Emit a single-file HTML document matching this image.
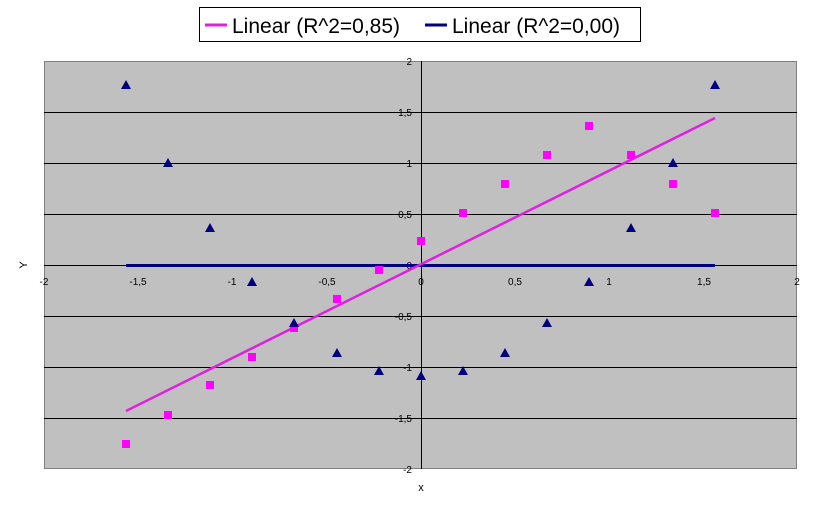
<!DOCTYPE html><html><head><style>body{margin:0;background:#fff}svg{display:block}text{font-family:"Liberation Sans",sans-serif}</style></head><body>
<svg width="823" height="512" xmlns="http://www.w3.org/2000/svg">
<rect x="199.5" y="7.5" width="441" height="34" fill="#fff" stroke="#000"/>
<line x1="205" y1="25" x2="227" y2="25" stroke="#e020e0" stroke-width="3"/>
<text x="232" y="33" font-size="21">Linear (R^2=0,85)</text>
<line x1="425" y1="25" x2="447" y2="25" stroke="#000080" stroke-width="3"/>
<text x="452" y="33" font-size="21">Linear (R^2=0,00)</text>
<rect x="44.5" y="61.5" width="752" height="407" fill="#c0c0c0" stroke="#808080"/>
<g stroke="#000" stroke-width="1">
<line x1="44" y1="112.5" x2="797" y2="112.5"/><line x1="44" y1="163.5" x2="797" y2="163.5"/><line x1="44" y1="214.5" x2="797" y2="214.5"/><line x1="44" y1="265.5" x2="797" y2="265.5"/><line x1="44" y1="316.5" x2="797" y2="316.5"/><line x1="44" y1="367.5" x2="797" y2="367.5"/><line x1="44" y1="418.5" x2="797" y2="418.5"/>
<line x1="421.5" y1="61" x2="421.5" y2="469"/>
</g>
<g font-size="10" text-anchor="end">
<text x="412" y="65">2</text><text x="412" y="116">1,5</text><text x="412" y="167">1</text><text x="412" y="218">0,5</text><text x="412" y="269">0</text><text x="412" y="320">-0,5</text><text x="412" y="371">-1</text><text x="412" y="422">-1,5</text><text x="412" y="473">-2</text>
</g>
<g font-size="10" text-anchor="middle">
<text x="44" y="285">-2</text><text x="138" y="285">-1,5</text><text x="232" y="285">-1</text><text x="327" y="285">-0,5</text><text x="421" y="285">0</text><text x="515" y="285">0,5</text><text x="609" y="285">1</text><text x="704" y="285">1,5</text><text x="797" y="285">2</text>
<text x="421" y="491" font-size="11">x</text>
</g>
<text x="24" y="268" font-size="11" text-anchor="middle" transform="rotate(-90 24 265)">Y</text>
<line x1="126" y1="265.5" x2="715" y2="265.5" stroke="#000080" stroke-width="3"/>
<line x1="126" y1="411" x2="715" y2="118" stroke="#e020e0" stroke-width="2.5"/>
<g fill="#ff00ff">
<rect x="122" y="440" width="8" height="8"/><rect x="164" y="411" width="8" height="8"/><rect x="206" y="381" width="8" height="8"/><rect x="248" y="353" width="8" height="8"/><rect x="290" y="324" width="8" height="8"/><rect x="333" y="295" width="8" height="8"/><rect x="375" y="266" width="8" height="8"/><rect x="417" y="237" width="8" height="8"/><rect x="459" y="209" width="8" height="8"/><rect x="501" y="180" width="8" height="8"/><rect x="543" y="151" width="8" height="8"/><rect x="585" y="122" width="8" height="8"/><rect x="627" y="151" width="8" height="8"/><rect x="669" y="180" width="8" height="8"/><rect x="711" y="209" width="8" height="8"/>
</g>
<g fill="#000080">
<path d="M126 80l5 9h-10z"/><path d="M168 158l5 9h-10z"/><path d="M210 223l5 9h-10z"/><path d="M252 277l5 9h-10z"/><path d="M294 318l5 9h-10z"/><path d="M337 348l5 9h-10z"/><path d="M379 366l5 9h-10z"/><path d="M421 371l5 9h-10z"/><path d="M463 366l5 9h-10z"/><path d="M505 348l5 9h-10z"/><path d="M547 318l5 9h-10z"/><path d="M589 277l5 9h-10z"/><path d="M631 223l5 9h-10z"/><path d="M673 158l5 9h-10z"/><path d="M715 80l5 9h-10z"/>
</g>
</svg></body></html>
